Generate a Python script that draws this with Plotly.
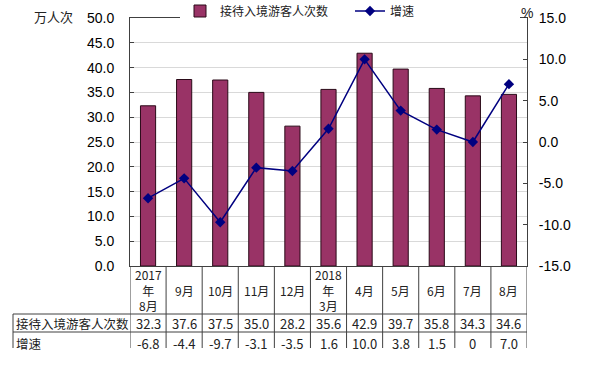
import plotly.graph_objects as go

categories = ["2017<br>年<br>8月", "9月", "10月", "11月", "12月", "2018<br>年<br>3月",
              "4月", "5月", "6月", "7月", "8月"]
visitors = [32.3, 37.6, 37.5, 35.0, 28.2, 35.6, 42.9, 39.7, 35.8, 34.3, 34.6]
growth = [-6.8, -4.4, -9.7, -3.1, -3.5, 1.6, 10.0, 3.8, 1.5, 0, 7.0]
visitor_labels = ["32.3", "37.6", "37.5", "35.0", "28.2", "35.6", "42.9", "39.7", "35.8", "34.3", "34.6"]
growth_labels = ["-6.8", "-4.4", "-9.7", "-3.1", "-3.5", "1.6", "10.0", "3.8", "1.5", "0", "7.0"]
left_ticks = [0, 5, 10, 15, 20, 25, 30, 35, 40, 45, 50]
right_ticks = [-15, -10, -5, 0, 5, 10, 15]
series_names = ["接待入境游客人次数", "增速"]

W, H = 598, 366
L, R, T, B = 130, 71, 18, 100
PH = H - T - B
PW = W - L - R

def py(p):
    return (H - B - p) / PH

def px(p):
    return (p - L) / PW

idx = list(range(len(categories)))

fig = go.Figure()
fig.add_trace(go.Bar(
    x=idx, y=visitors, name=series_names[0], width=0.42,
    marker=dict(color="#993366", line=dict(color="#2a0a18", width=1)),
    yaxis="y"))
fig.add_trace(go.Scatter(
    x=idx, y=growth, name=series_names[1], mode="lines+markers",
    line=dict(color="#000080", width=1.5),
    marker=dict(symbol="diamond", size=8, color="#000080"),
    yaxis="y2"))

cjk = "Noto Sans CJK SC"
tickfont = dict(family="Liberation Sans, Arial", size=14, color="#000000")
txt = "#222222"

annotations = []
shapes = []
line_col = "#404040"
for i, c in enumerate(categories):
    annotations.append(dict(x=i, xref="x", y=py(290), yref="paper", text=c, showarrow=False,
                            xanchor="center", yanchor="middle",
                            font=dict(family=cjk, size=12, color=txt)))
    annotations.append(dict(x=i, xref="x", y=py(323), yref="paper", text=visitor_labels[i], showarrow=False,
                            xanchor="center", yanchor="middle",
                            font=dict(family=cjk, size=13, color=txt)))
    annotations.append(dict(x=i, xref="x", y=py(343), yref="paper", text=growth_labels[i], showarrow=False,
                            xanchor="center", yanchor="middle",
                            font=dict(family=cjk, size=13, color=txt)))
annotations.append(dict(x=px(14), xref="paper", y=py(323), yref="paper", text=series_names[0], showarrow=False,
                        xanchor="left", yanchor="middle", font=dict(family=cjk, size=12.5, color=txt)))
annotations.append(dict(x=px(14), xref="paper", y=py(343), yref="paper", text=series_names[1], showarrow=False,
                        xanchor="left", yanchor="middle", font=dict(family=cjk, size=12.5, color=txt)))
annotations.append(dict(x=px(32), xref="paper", y=py(17), yref="paper", text="万人次", showarrow=False,
                        xanchor="left", yanchor="middle", font=dict(family=cjk, size=13, color=txt)))
annotations.append(dict(x=px(527), xref="paper", y=py(13), yref="paper", text="%", showarrow=False,
                        xanchor="center", yanchor="middle", font=dict(family="Liberation Sans", size=14, color=txt)))

for k in range(len(categories) + 1):
    shapes.append(dict(type="line", xref="x", yref="paper", x0=k - 0.5, x1=k - 0.5,
                       y0=py(266), y1=py(348), line=dict(color=line_col, width=1)))
for yy in (314, 332):
    shapes.append(dict(type="line", xref="paper", yref="paper", x0=px(13), x1=1,
                       y0=py(yy), y1=py(yy), line=dict(color=line_col, width=1)))
shapes.append(dict(type="line", xref="paper", yref="paper", x0=px(13), x1=px(13),
                   y0=py(314), y1=py(348), line=dict(color=line_col, width=1)))

fig.update_layout(
    width=W, height=H,
    margin=dict(l=L, r=R, t=T, b=B, autoexpand=False),
    paper_bgcolor="white", plot_bgcolor="white",
    showlegend=True,
    legend=dict(orientation="h", x=px(180), xanchor="left", y=py(11), yanchor="middle",
                bgcolor="white", font=dict(family=cjk, size=12, color=txt),
                itemwidth=30, entrywidth=125, entrywidthmode="pixels", tracegroupgap=0),
    xaxis=dict(range=[-0.5, len(categories) - 0.5], showticklabels=False, ticks="",
               showgrid=False, zeroline=False, showline=True, linecolor=line_col, linewidth=1,
               mirror=True, fixedrange=True),
    yaxis=dict(range=[0, 50], tickvals=left_ticks, ticktext=[f"{v:.1f}" for v in left_ticks],
               tickfont=tickfont, showgrid=True, gridcolor="#d9d9d9", gridwidth=1,
               zeroline=False, showline=True, linecolor=line_col, linewidth=1,
               ticks="inside", ticklen=4, tickcolor=line_col, ticklabelstandoff=12),
    yaxis2=dict(range=[-15, 15], overlaying="y", side="right",
                tickvals=right_ticks, ticktext=[f"{v:.1f}" for v in right_ticks],
                tickfont=tickfont, showgrid=False, zeroline=False, showline=True,
                linecolor=line_col, linewidth=1, ticks="inside", ticklen=4, tickcolor=line_col,
                ticklabelstandoff=8),
    annotations=annotations, shapes=shapes,
)

fig.write_html("out.html", config={"displayModeBar": False},
               post_script="document.body.style.margin='0';document.body.style.padding='0';")
